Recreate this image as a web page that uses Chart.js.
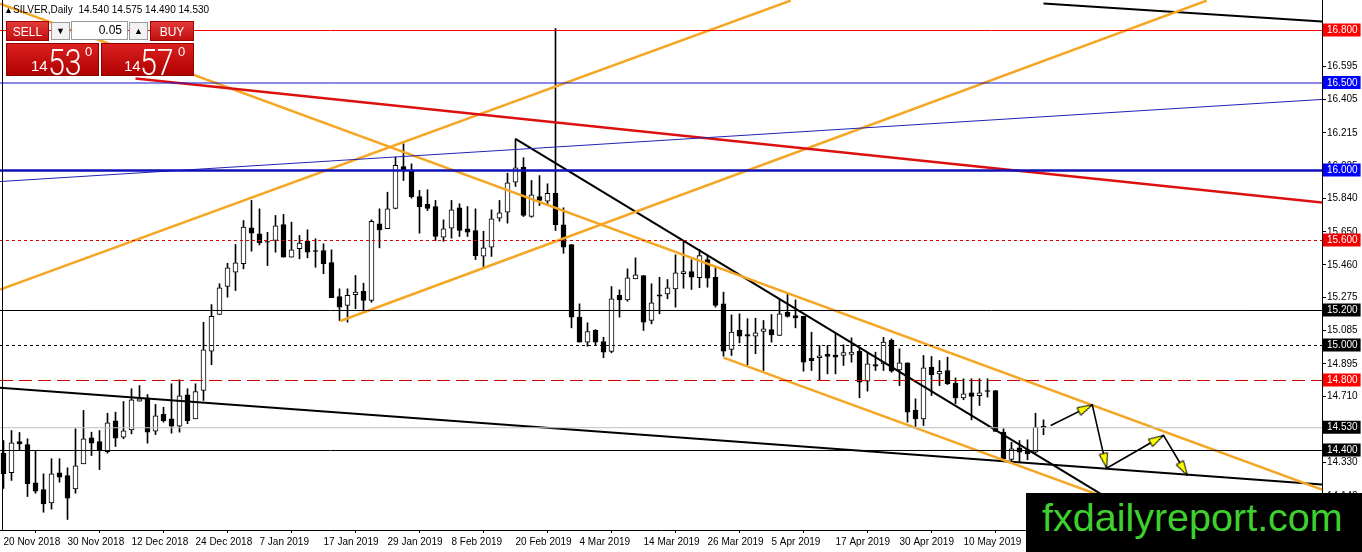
<!DOCTYPE html>
<html>
<head>
<meta charset="utf-8">
<title>SILVER, Daily</title>
<script src="https://cdn.jsdelivr.net/npm/chart.js@4.4.1/dist/chart.umd.min.js"></script>
<style>
  html, body { margin: 0; padding: 0; background: #fff; }
  #wrap { position: relative; width: 1362px; height: 552px; overflow: hidden; font-family: "Liberation Sans", Arial, sans-serif; }
  #chart { position: absolute; left: 0; top: 0; }
  .abs { position: absolute; }
  #frame { left: 2px; top: 0; width: 1px; height: 531px; background: #000; }
  #title { left: 13px; top: 4px; font-size: 10px; line-height: 12px; color: #000; white-space: nowrap; }
  #mark { left: 4px; top: 4px; font-size: 9px; line-height: 12px; }
  .btn { color: #fff; font-size: 12px; line-height: 20px; text-align: center;
         background: linear-gradient(#e23a3a, #c01010); border: 1px solid #a00000; box-sizing: border-box; }
  .spin { background: #f2f2f2; border: 1px solid #9a9a9a; box-sizing: border-box; font-size: 9px; line-height: 17px; text-align: center; color: #000; }
  .lot { background: #fff; border: 1px solid #9a9a9a; box-sizing: border-box; font-size: 12px; line-height: 17px; text-align: right; padding-right: 5px; color: #000; }
  .quote { background: linear-gradient(#dc2020, #b00000); border: 1px solid #900000; box-sizing: border-box; color: #fff; }
  .quote span { position: absolute; line-height: 1; white-space: nowrap; }
  .q-small { font-size: 15px; }
  .q-big { font-size: 37px; font-family: Roboto, "Liberation Sans", sans-serif; font-weight: 300; transform: scaleX(0.82); transform-origin: left top; }
  .q-sup { font-size: 13px; }
  #brand { left: 1026px; top: 493px; width: 336px; height: 59px; background: #000; }
  #brand span { position: absolute; left: 16px; top: 5px; font-size: 39.5px; line-height: 1; color: #3fcf2f; white-space: nowrap; }
</style>
</head>
<body>
<div id="wrap">
  <canvas id="chart" width="1362" height="552"></canvas>
  <div class="abs" id="frame"></div>
  <div class="abs" id="mark">&#9650;</div>
  <div class="abs" id="title">SILVER,Daily&nbsp; 14.540 14.575 14.490 14.530</div>

  <div class="abs btn" style="left:6px;top:21px;width:43px;height:20px;">SELL</div>
  <div class="abs spin" style="left:51px;top:22px;width:19px;height:18px;">&#9660;</div>
  <div class="abs lot" style="left:71px;top:21px;width:57px;height:19px;">0.05</div>
  <div class="abs spin" style="left:129px;top:22px;width:19px;height:18px;">&#9650;</div>
  <div class="abs btn" style="left:150px;top:21px;width:44px;height:20px;">BUY</div>

  <div class="abs quote" style="left:6px;top:43px;width:93px;height:33px;">
    <span class="q-small" style="left:24px;top:14px;">14</span>
    <span class="q-big" style="left:41px;top:0px;">53</span>
    <span class="q-sup" style="left:78px;top:1px;">0</span>
  </div>
  <div class="abs quote" style="left:101px;top:43px;width:93px;height:33px;">
    <span class="q-small" style="left:22px;top:14px;">14</span>
    <span class="q-big" style="left:38px;top:0px;">57</span>
    <span class="q-sup" style="left:76px;top:1px;">0</span>
  </div>

  <div class="abs" id="brand"><span>fxdailyreport.com</span></div>
</div>

<script>
// time axis labels, one every 8 daily bars (bar 0 = 20 Nov 2018)
const dateLabels = ['20 Nov 2018', '30 Nov 2018', '12 Dec 2018', '24 Dec 2018', '7 Jan 2019', '17 Jan 2019',
  '29 Jan 2019', '8 Feb 2019', '20 Feb 2019', '4 Mar 2019', '14 Mar 2019', '26 Mar 2019',
  '5 Apr 2019', '17 Apr 2019', '30 Apr 2019', '10 May 2019'];
const labelStep = 8;

const opens = [14.385, 14.273, 14.451, 14.434, 14.215, 14.177, 14.101, 14.273, 14.257, 14.181,
  14.324, 14.473, 14.451, 14.394, 14.570, 14.476, 14.518, 14.682, 14.699, 14.510,
  14.606, 14.581, 14.539, 14.718, 14.581, 14.743, 14.967, 15.177, 15.337, 15.419,
  15.467, 15.673, 15.638, 15.594, 15.600, 15.691, 15.505, 15.553, 15.596, 15.543,
  15.543, 15.474, 15.280, 15.229, 15.290, 15.310, 15.257, 15.695, 15.667, 15.784,
  16.023, 16.000, 15.851, 15.806, 15.794, 15.619, 15.670, 15.787, 15.667, 15.657,
  15.510, 15.562, 15.727, 15.762, 15.933, 16.019, 15.737, 15.851, 15.825, 15.870,
  15.690, 15.577, 15.162, 15.019, 15.086, 15.023, 14.966, 15.286, 15.261, 15.381,
  15.400, 15.143, 15.290, 15.295, 15.324, 15.410, 15.423, 15.387, 15.491, 15.390,
  15.238, 14.977, 15.086, 15.063, 15.053, 15.080, 15.091, 15.057, 15.189, 15.171,
  15.166, 14.926, 14.930, 14.949, 14.945, 14.943, 14.949, 14.966, 14.796, 14.891,
  14.895, 15.029, 14.861, 14.901, 14.629, 14.581, 14.876, 14.838, 14.857, 14.785,
  14.701, 14.730, 14.714, 14.743, 14.743, 14.505, 14.349, 14.415, 14.404, 14.390,
  14.540];
const highs = [14.457, 14.514, 14.503, 14.467, 14.400, 14.267, 14.353, 14.353, 14.301, 14.524,
  14.629, 14.505, 14.514, 14.613, 14.619, 14.680, 14.753, 14.771, 14.720, 14.663,
  14.647, 14.781, 14.804, 14.753, 14.781, 15.133, 15.234, 15.353, 15.470, 15.577,
  15.714, 15.829, 15.781, 15.647, 15.743, 15.749, 15.705, 15.629, 15.661, 15.610,
  15.581, 15.547, 15.324, 15.324, 15.400, 15.356, 15.718, 15.781, 15.876, 16.076,
  16.153, 16.038, 15.886, 15.890, 15.829, 15.718, 15.829, 15.810, 15.794, 15.781,
  15.653, 15.775, 15.829, 15.985, 16.181, 16.073, 15.943, 15.971, 15.924, 16.811,
  15.787, 15.577, 15.238, 15.130, 15.091, 15.047, 15.337, 15.318, 15.438, 15.501,
  15.400, 15.353, 15.390, 15.377, 15.518, 15.590, 15.490, 15.549, 15.518, 15.447,
  15.305, 15.175, 15.181, 15.153, 15.156, 15.143, 15.177, 15.267, 15.295, 15.261,
  15.166, 15.076, 15.000, 15.000, 15.067, 15.004, 15.044, 14.990, 14.956, 14.962,
  15.047, 15.038, 14.981, 14.901, 14.695, 14.943, 14.937, 14.914, 14.933, 14.815,
  14.810, 14.810, 14.810, 14.810, 14.743, 14.524, 14.447, 14.457, 14.461, 14.613,
  14.575];
const lows = [14.183, 14.229, 14.400, 14.137, 14.156, 14.047, 14.065, 14.219, 14.006, 14.156,
  14.324, 14.371, 14.291, 14.385, 14.423, 14.467, 14.495, 14.682, 14.442, 14.491,
  14.562, 14.499, 14.505, 14.553, 14.581, 14.686, 14.890, 15.177, 15.276, 15.314,
  15.438, 15.539, 15.575, 15.457, 15.533, 15.505, 15.505, 15.495, 15.501, 15.447,
  15.410, 15.273, 15.143, 15.133, 15.210, 15.200, 15.247, 15.558, 15.667, 15.781,
  15.943, 15.842, 15.642, 15.771, 15.600, 15.596, 15.613, 15.623, 15.623, 15.491,
  15.447, 15.509, 15.710, 15.699, 15.909, 15.737, 15.733, 15.800, 15.800, 15.657,
  15.527, 15.101, 15.019, 14.996, 15.004, 14.930, 14.958, 15.162, 15.253, 15.381,
  15.086, 15.124, 15.181, 15.267, 15.219, 15.327, 15.320, 15.330, 15.333, 15.219,
  14.939, 14.943, 15.015, 14.890, 14.953, 14.857, 15.019, 15.057, 15.162, 15.101,
  14.853, 14.857, 14.800, 14.838, 14.838, 14.886, 14.905, 14.701, 14.739, 14.857,
  14.857, 14.847, 14.771, 14.562, 14.533, 14.543, 14.714, 14.771, 14.777, 14.667,
  14.690, 14.575, 14.657, 14.705, 14.509, 14.347, 14.333, 14.333, 14.347, 14.385,
  14.490];
const closes = [14.267, 14.444, 14.438, 14.210, 14.167, 14.095, 14.267, 14.247, 14.127, 14.313,
  14.467, 14.442, 14.400, 14.558, 14.470, 14.513, 14.690, 14.695, 14.505, 14.598,
  14.571, 14.539, 14.713, 14.571, 14.737, 14.975, 15.167, 15.330, 15.444, 15.473,
  15.676, 15.642, 15.587, 15.590, 15.684, 15.505, 15.547, 15.585, 15.533, 15.537,
  15.467, 15.273, 15.219, 15.286, 15.305, 15.257, 15.709, 15.661, 15.781, 16.029,
  16.004, 15.851, 15.794, 15.784, 15.623, 15.667, 15.775, 15.657, 15.647, 15.514,
  15.558, 15.724, 15.758, 15.930, 16.015, 15.743, 15.861, 15.829, 15.870, 15.691,
  15.562, 15.162, 15.019, 15.080, 15.019, 14.962, 15.267, 15.261, 15.387, 15.404,
  15.133, 15.244, 15.282, 15.330, 15.415, 15.423, 15.390, 15.514, 15.385, 15.229,
  14.967, 15.076, 15.053, 15.053, 15.073, 15.095, 15.061, 15.181, 15.166, 15.158,
  14.905, 14.914, 14.941, 14.937, 14.933, 14.960, 14.962, 14.790, 14.895, 14.882,
  15.019, 14.853, 14.901, 14.619, 14.581, 14.873, 14.834, 14.853, 14.781, 14.701,
  14.724, 14.709, 14.730, 14.737, 14.509, 14.353, 14.410, 14.390, 14.381, 14.533,
  14.530];

// price scale labels and horizontal levels
const gridPrices = [16.785, 16.595, 16.405, 16.215, 16.025, 15.840, 15.650, 15.460, 15.275,
  15.085, 14.895, 14.710, 14.520, 14.330, 14.140];
const levelPrices = [16.800, 16.500, 16.000, 15.600, 15.200, 15.000, 14.800, 14.530, 14.400];

// trend lines as [bar, price] end points
const blueTrend = [[-0.44, 15.937], [164.81, 16.406]];
const redTrend = [[16.5, 16.526], [164.81, 15.817]];
const orangeRise1 = [[-0.44, 15.320], [98.4, 16.971]];
const orangeRise2 = [[42.1, 15.140], [150.4, 16.971]];
const orangeFall1 = [[-0.44, 16.954], [164.81, 14.177]];
const orangeFall2 = [[90, 14.931], [164.81, 13.679]];
const blackFall = [[64, 16.181], [137.1, 14.153]];
const blackBase = [[-0.44, 14.758], [164.81, 14.206]];
const blackTop = [[130, 16.954], [164.81, 16.851]];
const arrowPath = [[130.9, 14.543], [136.1, 14.661], [137.9, 14.299], [145.0, 14.486], [148.0, 14.257]];

const X_MIN = -0.4375, X_MAX = 164.8125;
const Y_MIN = 13.94571, Y_MAX = 16.97429;

const levelStyle = [
  { color: '#ff0000', width: 1, dash: [], box: '#ff0000' },
  { color: '#1414c8', width: 1, dash: [], box: '#0000ff' },
  { color: '#1010b8', width: 2.5, dash: [], box: '#0000ff' },
  { color: '#e00000', width: 1, dash: [3, 3], box: '#ee0000' },
  { color: '#000000', width: 1, dash: [], box: '#000000' },
  { color: '#000000', width: 1, dash: [3, 3], box: '#000000' },
  { color: '#d00000', width: 1, dash: [13, 6], box: '#ff0000' },
  { color: '#c0c0c0', width: 1, dash: [], box: '#000000' },
  { color: '#000000', width: 1, dash: [], box: '#000000' }
];

const toXY = pts => pts.map(p => ({ x: p[0], y: p[1] }));

const lineSet = (pts, color, width, dash) => ({
  type: 'line',
  data: toXY(pts),
  borderColor: color,
  borderWidth: width,
  borderDash: dash || [],
  pointRadius: 0,
  fill: false,
  tension: 0,
  clip: 0,
  order: 1
});

const arrowHead = (() => {
  const c = document.createElement('canvas');
  c.width = 10; c.height = 32;
  const g = c.getContext('2d');
  g.beginPath();
  g.moveTo(5, 16); g.lineTo(9.2, 31); g.lineTo(0.8, 31); g.closePath();
  g.fillStyle = '#ffff00'; g.fill();
  g.strokeStyle = '#000'; g.lineWidth = 1; g.stroke();
  return c;
})();

const bars = opens.map((o, i) => i);

const datasets = [];

levelPrices.forEach((p, k) => {
  const s = levelStyle[k];
  datasets.push(lineSet([[X_MIN, p], [X_MAX, p]], s.color, s.width, s.dash));
});

datasets.push(lineSet(blueTrend, '#2222b4', 1));
datasets.push(lineSet(redTrend, '#dd1010', 2.5));
datasets.push(lineSet(orangeRise1, '#f5a623', 2.5));
datasets.push(lineSet(orangeRise2, '#f5a623', 2.5));
datasets.push(lineSet(orangeFall1, '#f5a623', 2.5));
datasets.push(lineSet(orangeFall2, '#f5a623', 2.5));
datasets.push(lineSet(blackFall, '#000000', 2));
datasets.push(lineSet(blackBase, '#000000', 2));
datasets.push(lineSet(blackTop, '#000000', 2));

datasets.push({
  type: 'line',
  data: toXY(arrowPath),
  borderColor: '#000',
  borderWidth: 1.6,
  tension: 0,
  fill: false,
  clip: 0,
  order: 0,
  pointStyle: ctx => ctx.dataIndex === 0 ? 'circle' : arrowHead,
  pointRadius: ctx => ctx.dataIndex === 0 ? 0 : 4,
  pointRotation: ctx => {
    const i = ctx.dataIndex, d = ctx.dataset.data;
    if (i === 0) return 0;
    const sx = ctx.chart.scales.x, sy = ctx.chart.scales.y;
    const dx = sx.getPixelForValue(d[i].x) - sx.getPixelForValue(d[i - 1].x);
    const dy = sy.getPixelForValue(d[i].y) - sy.getPixelForValue(d[i - 1].y);
    return Math.atan2(dx, -dy) * 180 / Math.PI;
  }
});

// candle bodies
datasets.push({
  type: 'bar',
  data: bars.map(i => ({ x: i, y: [opens[i], closes[i]] })),
  backgroundColor: bars.map(i => closes[i] >= opens[i] ? '#ffffff' : '#000000'),
  borderColor: '#000000',
  borderWidth: 1,
  borderSkipped: false,
  barThickness: 5,
  grouped: false,
  order: 5
});

// candle wicks
datasets.push({
  type: 'bar',
  data: bars.map(i => ({ x: i, y: [lows[i], highs[i]] })),
  backgroundColor: '#000000',
  borderWidth: 0,
  barThickness: 1,
  grouped: false,
  order: 6
});

const isLevel = v => levelPrices.some(p => Math.abs(p - v) < 1e-6);
const levelBox = v => levelStyle[levelPrices.findIndex(p => Math.abs(p - v) < 1e-6)].box;

Chart.defaults.font.family = '"Liberation Sans", Arial, sans-serif';
Chart.defaults.font.size = 10;
Chart.defaults.color = '#000';

new Chart(document.getElementById('chart'), {
  type: 'bar',
  data: { datasets: datasets },
  options: {
    responsive: false,
    animation: false,
    devicePixelRatio: 1,
    layout: { padding: 0, autoPadding: false },
    plugins: { legend: { display: false }, tooltip: { enabled: false } },
    events: [],
    scales: {
      x: {
        type: 'linear',
        position: 'bottom',
        min: X_MIN,
        max: X_MAX,
        offset: false,
        bounds: 'data',
        grid: { drawOnChartArea: false, tickLength: 3, color: '#000' },
        border: { display: true, color: '#000', width: 1 },
        ticks: {
          autoSkip: false,
          maxRotation: 0,
          minRotation: 0,
          align: 'start',
          padding: 3,
          color: '#000',
          callback: v => dateLabels[Math.round(v / labelStep)]
        },
        afterBuildTicks: s => { s.ticks = dateLabels.map((d, k) => ({ value: k * labelStep })); },
        afterFit: s => { s.height = 22; s.paddingLeft = 0; s.paddingRight = 0; s.paddingTop = 0; s.paddingBottom = 0; }
      },
      y: {
        type: 'linear',
        position: 'right',
        min: Y_MIN,
        max: Y_MAX,
        bounds: 'data',
        grid: { drawOnChartArea: false, tickLength: 4, color: '#000' },
        border: { display: true, color: '#000', width: 1 },
        ticks: {
          autoSkip: false,
          padding: 1,
          color: ctx => isLevel(ctx.tick.value) ? '#ffffff' : '#000000',
          showLabelBackdrop: ctx => isLevel(ctx.tick.value),
          backdropColor: ctx => isLevel(ctx.tick.value) ? levelBox(ctx.tick.value) : 'rgba(0,0,0,0)',
          backdropPadding: { left: 4, right: 3, top: 1, bottom: 0 },
          callback: v => v.toFixed(3)
        },
        afterBuildTicks: s => { s.ticks = gridPrices.concat(levelPrices).map(v => ({ value: v })); },
        afterFit: s => { s.width = 40; s.paddingLeft = 0; s.paddingRight = 0; s.paddingTop = 0; s.paddingBottom = 0; }
      }
    }
  }
});
</script>
</body>
</html>
